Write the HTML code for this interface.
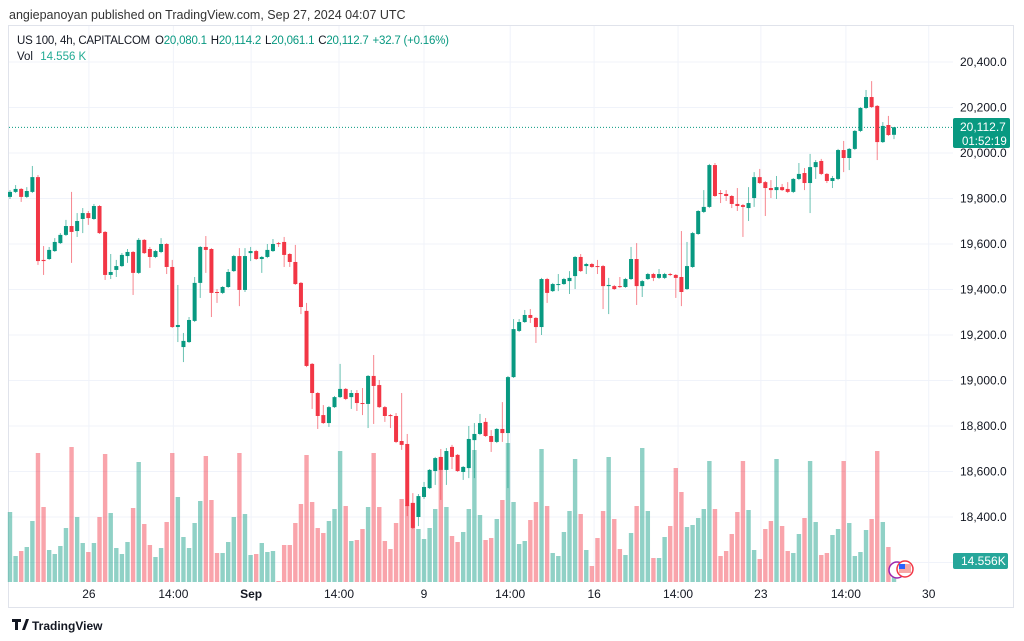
<!DOCTYPE html>
<html><head><meta charset="utf-8"><style>
html,body{margin:0;padding:0;background:#fff;width:1024px;height:641px;overflow:hidden;font-family:"Liberation Sans",sans-serif;}
svg{position:absolute;left:0;top:0;}
</style></head><body>
<svg id="chart" width="1024" height="641" viewBox="0 0 1024 641">
<text x="9" y="19" font-size="12.5" fill="#333">angiepanoyan published on TradingView.com, Sep 27, 2024 04:07 UTC</text>
<rect x="8.5" y="25.5" width="1005" height="582" fill="none" stroke="#e0e3eb"/>
<g id="grid"></g>
<g id="vols"></g>
<line x1="9" x2="953" y1="127.4" y2="127.4" stroke="#089981" stroke-dasharray="1,2"/>
<g id="candles"></g>
<g id="yaxis"></g>
<g id="xaxis"></g>
<text x="17" y="44" font-size="11.5" fill="#131722" textLength="432" lengthAdjust="spacing">US 100, 4h, CAPITALCOM <tspan dx="2">O</tspan><tspan fill="#089981">20,080.1</tspan><tspan dx="4">H</tspan><tspan fill="#089981">20,114.2</tspan><tspan dx="4">L</tspan><tspan fill="#089981">20,061.1</tspan><tspan dx="4">C</tspan><tspan fill="#089981">20,112.7</tspan><tspan dx="4" fill="#089981">+32.7 (+0.16%)</tspan></text>
<text x="17" y="60" font-size="11.5" fill="#131722">Vol <tspan dx="4" fill="#22ab94">14.556 K</tspan></text>
<rect x="953" y="118" width="57" height="30" rx="2" fill="#089981"/>
<text x="960" y="131" font-size="12" fill="#fff">20,112.7</text>
<text x="962" y="145" font-size="11.5" fill="#fff">01:52:19</text>
<rect x="953" y="553" width="55" height="16" rx="2" fill="#26a69a"/>
<text x="961" y="565" font-size="12" fill="#fff">14.556K</text>
<circle cx="897" cy="570" r="8" fill="#fff" stroke="#9c27b0" stroke-width="1.5"/>
<circle cx="905" cy="569" r="8" fill="#fff" stroke="#f23645" stroke-width="1.5"/>
<rect x="899" y="564" width="12" height="9" fill="#f7a9a7"/>
<rect x="899" y="564" width="6" height="5" fill="#2962ff"/>
<g>
<path d="M12 619h9v3h-3v8h-3v-8h-3z M22 630l4-11h3l-4 11z" fill="#131722"/>
<text x="32" y="630" font-size="12" font-weight="bold" fill="#131722">TradingView</text>
</g>
</svg>
<script>
const opens=[19807,19829,19842,19807,19829,19894,19530,19534,19569,19604,19640,19679,19657,19710,19736,19710,19767,19653,19464,19486,19503,19547,19565,19473,19618,19578,19543,19565,19600,19499,19235,19147,19169,19262,19429,19587,19578,19389,19385,19411,19481,19547,19398,19560,19569,19534,19543,19569,19604,19609,19556,19521,19429,19306,19073,18945,18848,18813,18883,18927,18963,18927,18945,18901,18897,19020,18980,18883,18848,18844,18734,18721,18462,18400,18488,18527,18602,18664,18607,18708,18673,18598,18615,18738,18765,18818,18756,18730,18787,18769,19015,19218,19257,19288,19275,19235,19446,19393,19420,19424,19437,19459,19543,19503,19512,19503,19503,19415,19415,19415,19411,19446,19534,19415,19446,19468,19451,19451,19468,19464,19455,19402,19499,19644,19741,19763,19947,19824,19820,19811,19776,19771,19758,19802,19894,19872,19846,19837,19850,19842,19829,19886,19912,19868,19938,19965,19908,19877,19886,20013,19978,20018,20097,20198,20246,20207,20048,20123,20080];
const highs=[19837,19859,19846,19850,19943,19903,19591,19587,19626,19648,19706,19829,19736,19758,19745,19776,19771,19657,19556,19530,19560,19578,19569,19626,19622,19587,19574,19626,19604,19530,19420,19209,19279,19455,19591,19635,19582,19402,19415,19490,19552,19582,19582,19587,19574,19547,19600,19622,19609,19631,19560,19596,19433,19341,19077,18949,18892,18888,18932,19073,18967,18958,18958,18967,19024,19112,19002,18888,18853,18857,18945,18765,18505,18501,18554,18611,18664,18699,18703,18717,18677,18624,18800,18813,18853,18835,18782,18791,18905,19020,19270,19270,19310,19314,19279,19451,19451,19429,19468,19451,19481,19547,19556,19517,19517,19530,19508,19451,19420,19455,19451,19587,19604,19442,19473,19473,19490,19473,19473,19468,19657,19609,19653,19749,19837,19952,19956,19837,19837,19815,19846,19776,19850,19916,19930,19877,19881,19899,19864,19872,19890,19956,19934,19996,19969,19974,19912,19899,20018,20053,20022,20101,20202,20277,20316,20211,20136,20163,20114];
const lows=[19798,19824,19785,19802,19824,19508,19464,19530,19565,19600,19635,19517,19631,19648,19684,19706,19644,19442,19446,19455,19499,19517,19376,19468,19556,19495,19538,19560,19468,19231,19169,19081,19165,19257,19363,19473,19279,19341,19380,19407,19477,19327,19389,19525,19530,19473,19538,19565,19587,19499,19499,19420,19292,19059,18875,18787,18809,18796,18879,18923,18914,18875,18866,18848,18791,18809,18879,18818,18791,18725,18695,18404,18347,18360,18479,18523,18541,18475,18541,18611,18598,18563,18571,18571,18760,18752,18686,18725,18730,18527,19011,19213,19253,19253,19165,19200,19341,19389,19393,19420,19380,19402,19477,19468,19495,19468,19314,19292,19398,19407,19407,19442,19332,19367,19442,19437,19446,19446,19459,19363,19327,19398,19495,19640,19736,19758,19807,19780,19789,19758,19745,19631,19701,19763,19864,19723,19802,19798,19833,19824,19824,19881,19837,19736,19886,19903,19868,19846,19881,19916,19925,20013,20092,20193,20198,19969,20044,20075,20061];
const closes=[19829,19842,19807,19833,19894,19525,19525,19574,19609,19640,19679,19653,19701,19736,19714,19767,19648,19464,19477,19503,19552,19565,19473,19618,19560,19543,19569,19600,19499,19235,19244,19174,19266,19429,19587,19574,19385,19385,19411,19477,19547,19398,19547,19569,19534,19543,19574,19600,19600,19552,19521,19424,19323,19064,18945,18844,18813,18883,18927,18963,18919,18945,18901,18897,19020,18976,18883,18844,18844,18730,18717,18448,18352,18492,18532,18607,18659,18607,18690,18664,18602,18620,18743,18765,18813,18756,18730,18787,18769,19015,19226,19257,19288,19275,19235,19446,19385,19424,19424,19446,19451,19543,19481,19512,19499,19499,19415,19420,19402,19411,19446,19534,19415,19437,19468,19451,19468,19468,19464,19451,19389,19503,19648,19745,19763,19947,19811,19820,19811,19776,19767,19763,19780,19894,19868,19846,19837,19850,19837,19829,19886,19908,19868,19938,19960,19908,19877,19890,20013,19978,20018,20097,20198,20246,20202,20048,20119,20079,20113];
const volumes=[140,52,62,70,122,258,150,64,56,72,108,270,130,78,60,78,130,256,138,68,56,80,148,240,116,74,50,68,120,258,170,90,68,118,162,252,164,58,58,80,130,258,136,54,56,78,60,62,2,74,74,118,156,254,160,108,98,122,146,262,152,82,84,106,150,258,150,82,66,118,166,154,158,106,86,108,146,250,150,92,80,100,146,264,134,84,88,126,164,278,160,76,82,124,160,266,152,58,52,100,142,246,136,64,32,88,142,250,126,66,54,98,152,268,142,48,48,90,112,228,180,110,114,128,146,242,146,52,62,96,140,242,144,64,46,106,122,246,112,62,58,96,128,242,120,54,58,94,106,242,118,52,60,104,126,262,120,70,14.6];
const priceTicks=[20400,20200,20000,19800,19600,19400,19200,19000,18800,18600,18400];
const priceTickLabels=["20,400.0","20,200.0","20,000.0","19,800.0","19,600.0","19,400.0","19,200.0","19,000.0","18,800.0","18,600.0","18,400.0"];
const timeTickIndex=[14.1,29.2,43.1,58.8,74.0,89.4,104.4,119.4,134.2,149.4,164.2];
const timeTickLabels=["26","14:00","Sep","14:00","9","14:00","16","14:00","23","14:00","30"];

const NS="http://www.w3.org/2000/svg";
const X0=10, STEP=5.595;
function xScale(i){return X0+i*STEP;}
function yScale(p){return 153+(20000-p)*0.2275;}
function vScale(v){return v*0.5;}
const VBASE=582;
function mk(tag,attrs,parent){const e=document.createElementNS(NS,tag);for(const k in attrs)e.setAttribute(k,attrs[k]);parent.appendChild(e);return e;}

const grid=document.getElementById('grid');
for(let k=0;k<13;k++){
  const y=yScale(20400-200*k);
  if(y<26||y>607)continue;
  const l=mk('line',{x1:9,x2:953,y1:y,y2:y,stroke:'#f0f3fa'},grid);
  
  
}
timeTickIndex.forEach(function(t){
  const x=xScale(t);
  const l=mk('line',{x1:x,x2:x,y1:26,y2:582,stroke:'#f0f3fa'},grid);
  
  
});

const vg=document.getElementById('vols');
volumes.forEach(function(v,i){
  const up=closes[i]>=opens[i];
  const h=vScale(v);
  const r=mk('rect',{x:xScale(i)-2.2,y:VBASE-h,width:4.4,height:h,fill:up?'#089981':'#f23645','fill-opacity':0.45},vg);
  
  
});

const cg=document.getElementById('candles');
opens.forEach(function(o,i){
  const c=closes[i],up=c>=o,col=up?'#089981':'#f23645';
  const x=xScale(i);
  const w=mk('line',{x1:x,x2:x,y1:yScale(highs[i]),y2:yScale(lows[i]),stroke:col,'stroke-opacity':0.6,'stroke-width':1},cg);
  
  
  const top=yScale(Math.max(o,c)),bot=yScale(Math.min(o,c));
  const b=mk('rect',{x:x-2,y:top,width:4,height:Math.max(1,bot-top),fill:col},cg);
  
  
});

const ya=document.getElementById('yaxis');
priceTicks.forEach(function(p,k){
  const t=mk('text',{x:960,y:yScale(p)+4,'font-size':12,fill:'#131722'},ya);
  t.textContent=priceTickLabels[k];
  
  
});
const xa=document.getElementById('xaxis');
timeTickIndex.forEach(function(ti,k){
  const t=mk('text',{x:xScale(ti),y:598,'font-size':12,fill:'#131722','text-anchor':'middle'},xa);
  if(timeTickLabels[k]==='Sep')t.setAttribute('font-weight','bold');
  t.textContent=timeTickLabels[k];
  
  
});
</script>
</body></html>
